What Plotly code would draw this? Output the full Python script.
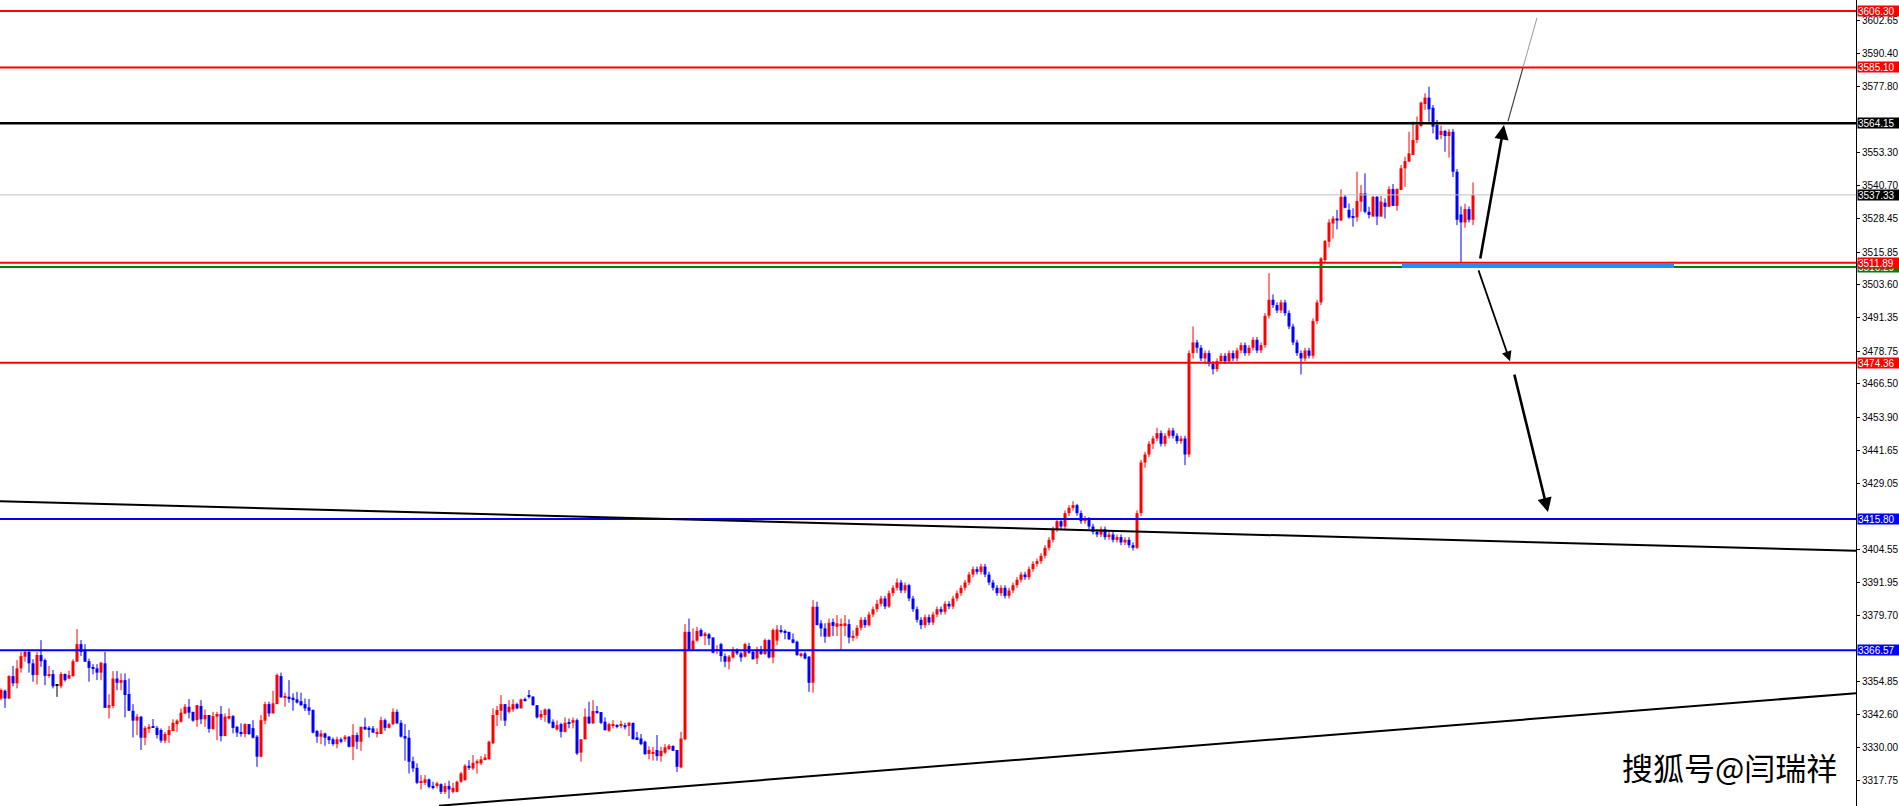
import plotly.graph_objects as go

# ---------------- data ----------------
opens = [
    3348.5, 3351.4, 3348.5, 3356.9, 3354.2, 3359.8, 3364.2, 3366.0, 3361.7, 3357.3,
    3364.8, 3362.9, 3357.2, 3357.7, 3353.5, 3353.1, 3357.7, 3356.0, 3356.9, 3362.3,
    3368.9, 3366.9, 3362.5, 3360.2, 3359.8, 3358.2, 3361.7, 3345.0, 3345.7, 3356.0,
    3354.4, 3355.4, 3350.2, 3343.9, 3340.2, 3341.7, 3333.8, 3337.1, 3337.9, 3337.5,
    3336.7, 3332.7, 3334.8, 3336.3, 3338.9, 3339.8, 3342.9, 3345.4, 3343.5, 3340.4,
    3345.7, 3340.7, 3342.3, 3337.1, 3341.7, 3342.7, 3334.4, 3341.0, 3341.9, 3337.9,
    3335.9, 3335.2, 3338.9, 3337.4, 3334.2, 3326.7, 3340.2, 3346.4, 3342.9, 3346.4,
    3356.9, 3348.9, 3349.2, 3348.8, 3348.2, 3347.5, 3346.4, 3345.2, 3344.2, 3336.3,
    3334.2, 3335.4, 3334.2, 3333.2, 3331.4, 3333.2, 3333.2, 3334.2, 3330.4, 3334.8,
    3332.3, 3337.9, 3337.5, 3337.3, 3335.2, 3335.2, 3340.4, 3337.5, 3338.9, 3343.5,
    3339.4, 3334.4, 3333.8, 3325.0, 3322.5, 3316.9, 3316.9, 3318.2, 3315.7, 3315.7,
    3316.4, 3313.5, 3315.7, 3313.5, 3313.5, 3317.3, 3317.9, 3323.3, 3322.3, 3324.2,
    3324.2, 3325.4, 3325.7, 3331.7, 3342.3, 3343.9, 3346.4, 3343.5, 3344.4, 3346.4,
    3344.8, 3348.3, 3349.8, 3349.2, 3346.0, 3341.4, 3342.3, 3344.4, 3339.8, 3336.9,
    3338.9, 3336.0, 3339.4, 3339.4, 3340.4, 3328.2, 3333.2, 3341.7, 3339.2, 3343.8,
    3343.4, 3339.8, 3336.4, 3338.2, 3338.5, 3338.2, 3338.5, 3338.2, 3339.4, 3333.9,
    3333.5, 3332.3, 3327.7, 3327.9, 3329.2, 3326.9, 3328.2, 3329.5, 3330.7, 3329.2,
    3322.7, 3333.2, 3373.5, 3366.9, 3370.2, 3374.2, 3372.3, 3372.6, 3371.4, 3366.4,
    3368.9, 3364.4, 3362.3, 3363.9, 3366.9, 3365.4, 3364.2, 3368.2, 3366.0, 3363.5,
    3366.9, 3365.2, 3370.4, 3363.9, 3370.2, 3374.2, 3373.8, 3373.5, 3370.7, 3369.8,
    3364.8, 3365.4, 3364.2, 3354.4, 3382.9, 3376.7, 3374.8, 3371.7, 3377.2, 3375.4,
    3375.9, 3375.7, 3376.4,
    3371.4, 3372.0, 3375.0, 3378.0, 3376.0, 3380.0, 3382.0, 3384.0, 3386.0, 3383.0,
    3388.0, 3390.0, 3392.0, 3389.0, 3391.0, 3386.0, 3382.0, 3378.0, 3376.0, 3379.0,
    3377.0, 3380.0, 3382.0, 3381.0, 3384.0, 3383.0, 3386.0, 3388.0, 3390.0, 3392.0,
    3395.0, 3397.0, 3396.0, 3398.0, 3395.0, 3392.0, 3390.0, 3388.0, 3390.0, 3387.0,
    3389.0, 3391.0, 3393.0, 3395.0, 3394.0, 3397.0, 3399.0, 3400.0, 3402.0, 3405.0,
    3408.0, 3412.0, 3415.0, 3413.0, 3418.0, 3420.0, 3421.0, 3418.0, 3415.0, 3416.0,
    3413.0, 3411.0, 3410.0, 3412.0, 3409.0, 3410.0, 3408.0, 3409.0, 3407.0, 3408.0,
    3406.0, 3405.0, 3418.0, 3437.0, 3440.0, 3444.0, 3446.0, 3448.0, 3444.0, 3447.0,
    3449.0, 3447.0, 3445.0, 3446.0, 3440.0, 3478.0, 3482.0, 3480.0, 3476.0, 3478.0,
    3474.0, 3472.0, 3475.0, 3477.0, 3475.0, 3478.0, 3476.0, 3479.0, 3481.0, 3478.0,
    3480.0, 3483.0, 3479.0, 3481.0, 3492.0, 3498.0, 3496.0, 3494.0, 3497.0, 3493.0,
    3488.0, 3482.0, 3478.0, 3476.0, 3479.0, 3477.0, 3490.0, 3497.0,
    3512.9, 3519.8, 3526.6, 3528.5, 3527.7, 3536.6, 3531.7, 3529.2, 3528.9, 3534.8,
    3537.9, 3531.0, 3529.2, 3536.6, 3529.2, 3534.4, 3532.9, 3539.5, 3533.2, 3539.2,
    3547.3, 3549.8, 3552.3, 3557.9, 3563.1, 3571.4, 3573.8, 3570.0, 3563.5, 3559.8,
    3561.3, 3559.4, 3561.0, 3546.0, 3530.0, 3527.0, 3532.0, 3528.0,
]
highs = [
    3352.3, 3351.9, 3357.2, 3360.7, 3362.9, 3366.0, 3366.7, 3366.2, 3363.2, 3366.0,
    3370.4, 3363.5, 3360.7, 3359.2, 3353.9, 3358.5, 3357.9, 3358.9, 3363.2, 3374.5,
    3370.4, 3368.9, 3363.5, 3361.4, 3361.4, 3362.3, 3366.0, 3350.1, 3358.8, 3358.8,
    3357.9, 3357.9, 3356.0, 3346.4, 3342.7, 3341.9, 3338.2, 3338.9, 3340.8, 3338.2,
    3337.3, 3336.0, 3338.2, 3340.7, 3340.7, 3344.8, 3346.4, 3348.3, 3343.5, 3346.0,
    3347.9, 3344.4, 3342.3, 3343.5, 3343.5, 3345.7, 3342.9, 3344.8, 3342.3, 3338.2,
    3339.2, 3339.2, 3338.9, 3340.4, 3334.8, 3342.3, 3347.3, 3347.3, 3351.4, 3357.9,
    3358.2, 3350.7, 3355.4, 3350.4, 3351.0, 3350.7, 3348.5, 3348.3, 3344.4, 3336.7,
    3336.7, 3335.7, 3334.5, 3333.9, 3334.2, 3333.9, 3334.8, 3334.4, 3338.9, 3335.7,
    3337.9, 3341.3, 3338.2, 3338.2, 3337.3, 3341.7, 3341.0, 3339.4, 3344.8, 3344.4,
    3340.4, 3338.9, 3336.7, 3326.7, 3324.2, 3319.8, 3319.8, 3318.5, 3317.3, 3317.3,
    3316.7, 3316.9, 3317.7, 3316.9, 3317.7, 3321.0, 3323.9, 3325.4, 3327.3, 3325.7,
    3326.9, 3327.7, 3332.7, 3344.8, 3345.7, 3349.8, 3346.4, 3347.9, 3348.2, 3346.9,
    3348.5, 3348.9, 3351.7, 3349.4, 3346.0, 3344.2, 3344.8, 3344.8, 3340.7, 3340.2,
    3339.4, 3341.4, 3341.0, 3341.4, 3341.0, 3333.2, 3344.8, 3347.3, 3347.9, 3345.7,
    3343.4, 3341.4, 3339.4, 3340.4, 3338.9, 3340.2, 3339.4, 3339.8, 3339.4, 3336.0,
    3335.2, 3332.7, 3330.6, 3330.4, 3334.8, 3330.4, 3331.4, 3331.4, 3331.0, 3329.2,
    3336.0, 3376.4, 3378.5, 3374.8, 3375.4, 3374.8, 3373.5, 3373.1, 3371.4, 3368.5,
    3369.4, 3365.4, 3364.8, 3367.9, 3367.3, 3366.0, 3369.4, 3369.4, 3366.7, 3367.9,
    3368.2, 3371.0, 3370.7, 3374.8, 3376.0, 3376.0, 3374.4, 3373.5, 3372.9, 3370.2,
    3365.7, 3366.0, 3364.4, 3385.4, 3384.8, 3377.9, 3376.7, 3378.5, 3378.5, 3379.8,
    3378.5, 3379.8, 3378.2,
    3374.0, 3376.0, 3379.0, 3379.0, 3381.0, 3383.0, 3385.5, 3387.0, 3387.0, 3389.0,
    3391.0, 3393.5, 3393.0, 3392.0, 3391.5, 3387.0, 3383.0, 3379.0, 3380.0, 3380.0,
    3381.0, 3383.0, 3383.0, 3385.0, 3385.0, 3387.0, 3389.0, 3391.0, 3393.0, 3396.0,
    3398.0, 3398.0, 3399.0, 3399.0, 3396.0, 3393.0, 3391.0, 3391.0, 3391.0, 3390.0,
    3392.0, 3394.0, 3396.0, 3396.0, 3398.0, 3400.0, 3401.0, 3403.0, 3406.0, 3409.0,
    3413.0, 3416.0, 3416.0, 3419.0, 3421.0, 3422.5, 3421.5, 3419.0, 3417.0, 3416.5,
    3414.0, 3412.0, 3413.0, 3413.0, 3411.0, 3411.0, 3410.0, 3410.0, 3409.0, 3409.0,
    3407.0, 3419.0, 3438.0, 3441.0, 3445.0, 3447.0, 3450.0, 3449.0, 3448.0, 3450.0,
    3450.0, 3448.0, 3447.0, 3447.0, 3479.0, 3488.0, 3483.0, 3481.0, 3479.0, 3479.0,
    3475.0, 3476.0, 3478.0, 3478.0, 3479.0, 3479.0, 3480.0, 3482.0, 3482.0, 3481.0,
    3484.0, 3484.0, 3482.0, 3493.0, 3508.0, 3500.0, 3497.0, 3498.0, 3498.0, 3494.0,
    3489.0, 3483.0, 3479.0, 3480.0, 3480.0, 3491.0, 3498.0, 3514.0,
    3520.4, 3528.2, 3529.4, 3531.7, 3539.4, 3537.3, 3534.1, 3532.3, 3546.0, 3541.0,
    3545.4, 3532.9, 3536.9, 3536.9, 3536.9, 3536.0, 3540.6, 3541.4, 3539.8, 3548.5,
    3551.6, 3561.0, 3564.8, 3566.7, 3572.3, 3575.4, 3577.9, 3571.0, 3565.4, 3563.3,
    3561.7, 3562.0, 3562.0, 3547.0, 3533.0, 3534.0, 3533.0, 3542.0,
]
lows = [
    3347.9, 3345.0, 3348.3, 3353.1, 3352.3, 3358.2, 3362.3, 3358.2, 3354.8, 3353.8,
    3360.4, 3353.5, 3356.3, 3352.3, 3349.1, 3352.3, 3354.8, 3355.8, 3356.7, 3362.3,
    3364.4, 3362.3, 3354.8, 3357.6, 3355.4, 3355.4, 3345.0, 3341.0, 3344.8, 3351.6,
    3351.6, 3341.4, 3343.9, 3333.9, 3334.8, 3329.2, 3331.0, 3335.6, 3337.5, 3333.5,
    3331.9, 3331.7, 3331.9, 3336.3, 3336.0, 3339.4, 3342.7, 3341.0, 3339.8, 3337.9,
    3338.9, 3337.9, 3335.7, 3336.7, 3332.9, 3332.4, 3334.4, 3340.7, 3335.4, 3334.1,
    3334.2, 3333.9, 3334.8, 3333.5, 3322.9, 3326.4, 3338.9, 3341.7, 3342.9, 3346.4,
    3348.9, 3345.4, 3346.9, 3343.9, 3346.6, 3345.7, 3343.8, 3342.3, 3335.4, 3331.9,
    3331.4, 3330.8, 3331.4, 3330.8, 3329.8, 3331.7, 3332.3, 3330.2, 3325.4, 3329.5,
    3328.9, 3336.7, 3333.9, 3335.7, 3333.9, 3335.2, 3336.4, 3337.3, 3338.5, 3338.9,
    3333.9, 3325.2, 3320.4, 3321.0, 3316.4, 3314.4, 3316.0, 3314.8, 3314.4, 3314.8,
    3312.7, 3312.7, 3311.0, 3312.9, 3313.3, 3316.9, 3317.7, 3321.7, 3321.7, 3320.4,
    3323.5, 3325.4, 3325.7, 3331.4, 3338.2, 3340.2, 3338.2, 3342.9, 3343.5, 3344.4,
    3344.8, 3347.3, 3348.5, 3345.7, 3341.0, 3340.4, 3339.8, 3338.9, 3337.3, 3336.4,
    3333.9, 3335.8, 3337.3, 3337.3, 3327.3, 3324.8, 3333.2, 3338.9, 3338.9, 3342.7,
    3338.9, 3336.4, 3336.0, 3337.3, 3337.3, 3337.3, 3336.9, 3334.4, 3333.2, 3332.9,
    3331.0, 3327.3, 3325.7, 3325.2, 3325.2, 3324.8, 3327.7, 3329.2, 3328.9, 3321.0,
    3322.3, 3332.9, 3366.7, 3366.9, 3369.8, 3371.7, 3368.5, 3368.5, 3365.4, 3365.2,
    3362.3, 3360.2, 3359.4, 3363.5, 3364.8, 3362.3, 3363.9, 3365.2, 3363.2, 3361.4,
    3364.8, 3364.8, 3363.5, 3361.7, 3368.5, 3372.9, 3370.7, 3370.4, 3369.2, 3364.4,
    3363.9, 3363.2, 3351.0, 3350.7, 3376.0, 3371.7, 3369.4, 3371.7, 3371.9, 3371.9,
    3366.7, 3371.9, 3369.2,
    3370.0, 3371.0, 3374.0, 3375.0, 3375.5, 3379.0, 3381.0, 3383.0, 3382.0, 3382.5,
    3387.0, 3389.0, 3388.0, 3388.0, 3385.0, 3381.0, 3377.0, 3374.5, 3375.0, 3376.0,
    3376.0, 3379.0, 3380.0, 3380.0, 3382.0, 3382.0, 3385.0, 3387.0, 3389.0, 3391.0,
    3394.0, 3395.0, 3395.0, 3394.0, 3391.0, 3389.0, 3387.0, 3387.0, 3386.0, 3386.0,
    3388.0, 3390.0, 3392.0, 3393.0, 3393.0, 3396.0, 3398.0, 3399.0, 3401.0, 3404.0,
    3407.0, 3411.0, 3412.0, 3412.0, 3417.0, 3419.0, 3417.0, 3414.0, 3414.0, 3412.0,
    3410.0, 3409.0, 3409.0, 3408.0, 3408.0, 3407.0, 3407.0, 3406.0, 3406.0, 3405.0,
    3404.0, 3404.5, 3417.0, 3435.0, 3439.0, 3442.0, 3445.0, 3443.0, 3443.0, 3446.0,
    3446.0, 3444.0, 3444.0, 3436.0, 3439.0, 3476.0, 3478.0, 3475.0, 3474.0, 3473.0,
    3470.0, 3471.0, 3474.0, 3474.0, 3474.0, 3475.0, 3475.0, 3478.0, 3477.0, 3477.0,
    3479.0, 3478.0, 3478.0, 3480.0, 3491.0, 3495.0, 3493.0, 3493.0, 3492.0, 3487.0,
    3481.0, 3477.0, 3470.0, 3475.0, 3476.0, 3476.0, 3489.0, 3496.0,
    3512.0, 3517.6, 3521.0, 3524.4, 3527.7, 3532.3, 3528.4, 3525.4, 3527.3, 3531.0,
    3530.4, 3528.5, 3529.2, 3526.0, 3529.2, 3528.5, 3532.9, 3533.2, 3531.4, 3539.2,
    3540.4, 3549.8, 3552.3, 3556.7, 3562.9, 3569.2, 3564.8, 3560.4, 3557.9, 3558.2,
    3553.5, 3551.3, 3544.0, 3526.0, 3511.9, 3525.0, 3527.0, 3526.0,
]
closes = [
    3351.7, 3348.5, 3356.9, 3354.2, 3359.8, 3364.4, 3366.0, 3361.7, 3357.3, 3364.8,
    3362.5, 3357.0, 3357.6, 3353.1, 3353.5, 3357.7, 3355.4, 3357.3, 3362.5, 3368.9,
    3366.0, 3362.3, 3360.0, 3359.8, 3358.2, 3361.9, 3345.0, 3346.0, 3356.0, 3354.4,
    3355.4, 3349.8, 3343.9, 3340.2, 3341.7, 3333.8, 3337.5, 3337.9, 3337.5, 3334.8,
    3332.7, 3335.2, 3336.7, 3339.4, 3340.2, 3343.2, 3345.4, 3343.2, 3340.2, 3346.0,
    3340.7, 3342.3, 3337.1, 3341.9, 3342.7, 3334.4, 3341.7, 3341.9, 3337.5, 3335.7,
    3335.2, 3338.9, 3335.2, 3333.8, 3326.7, 3340.4, 3346.4, 3342.9, 3346.7, 3357.3,
    3348.9, 3349.4, 3348.3, 3347.9, 3347.0, 3346.0, 3344.8, 3343.9, 3335.7, 3334.2,
    3335.4, 3333.8, 3332.9, 3331.4, 3333.2, 3332.3, 3334.2, 3330.4, 3334.8, 3332.3,
    3337.9, 3336.9, 3336.7, 3335.7, 3335.7, 3340.4, 3337.5, 3338.9, 3343.5, 3339.2,
    3334.2, 3333.5, 3324.8, 3322.3, 3316.9, 3317.3, 3318.2, 3315.4, 3315.0, 3316.7,
    3313.5, 3315.7, 3314.4, 3315.0, 3317.3, 3320.4, 3323.3, 3322.5, 3324.4, 3325.0,
    3325.7, 3326.4, 3332.3, 3342.3, 3344.2, 3346.4, 3340.2, 3345.4, 3346.4, 3344.8,
    3348.2, 3347.6, 3349.2, 3346.0, 3341.4, 3342.7, 3344.4, 3339.4, 3337.5, 3338.5,
    3336.0, 3339.4, 3339.2, 3340.4, 3327.9, 3333.2, 3341.7, 3339.2, 3343.8, 3343.2,
    3339.4, 3336.7, 3338.9, 3338.7, 3337.9, 3338.8, 3337.7, 3339.4, 3333.2, 3333.2,
    3331.4, 3327.7, 3329.2, 3328.5, 3326.9, 3328.9, 3330.2, 3330.8, 3328.9, 3322.9,
    3333.5, 3373.5, 3366.9, 3370.2, 3373.8, 3371.9, 3372.9, 3371.0, 3365.7, 3366.9,
    3364.4, 3362.3, 3364.2, 3366.9, 3365.4, 3363.9, 3368.9, 3365.7, 3363.2, 3366.9,
    3365.2, 3370.4, 3363.9, 3374.2, 3374.4, 3373.5, 3373.1, 3370.7, 3369.4, 3364.8,
    3365.4, 3363.5, 3354.4, 3382.9, 3376.0, 3374.8, 3371.7, 3376.9, 3375.7, 3376.7,
    3376.4, 3376.7, 3371.4,
    3372.0, 3375.0, 3378.0, 3376.0, 3380.0, 3382.0, 3384.0, 3386.0, 3383.0, 3388.0,
    3390.0, 3392.0, 3389.0, 3391.0, 3386.0, 3382.0, 3378.0, 3376.0, 3379.0, 3377.0,
    3380.0, 3382.0, 3381.0, 3384.0, 3383.0, 3386.0, 3388.0, 3390.0, 3392.0, 3395.0,
    3397.0, 3396.0, 3398.0, 3395.0, 3392.0, 3390.0, 3388.0, 3390.0, 3387.0, 3389.0,
    3391.0, 3393.0, 3395.0, 3394.0, 3397.0, 3399.0, 3400.0, 3402.0, 3405.0, 3408.0,
    3412.0, 3415.0, 3413.0, 3418.0, 3420.0, 3421.0, 3418.0, 3415.0, 3416.0, 3413.0,
    3411.0, 3410.0, 3412.0, 3409.0, 3410.0, 3408.0, 3409.0, 3407.0, 3408.0, 3406.0,
    3405.0, 3418.0, 3437.0, 3440.0, 3444.0, 3446.0, 3448.0, 3444.0, 3447.0, 3449.0,
    3447.0, 3445.0, 3446.0, 3440.0, 3478.0, 3482.0, 3480.0, 3476.0, 3478.0, 3474.0,
    3472.0, 3475.0, 3477.0, 3475.0, 3478.0, 3476.0, 3479.0, 3481.0, 3478.0, 3480.0,
    3483.0, 3479.0, 3481.0, 3492.0, 3498.0, 3496.0, 3494.0, 3497.0, 3493.0, 3488.0,
    3482.0, 3478.0, 3476.0, 3479.0, 3477.0, 3490.0, 3497.0, 3513.5,
    3520.0, 3527.0, 3528.5, 3527.7, 3536.6, 3532.5, 3528.9, 3528.9, 3535.0, 3537.9,
    3531.0, 3529.8, 3536.6, 3529.2, 3534.8, 3532.9, 3539.5, 3533.2, 3539.5, 3547.3,
    3550.0, 3552.9, 3557.9, 3563.5, 3571.9, 3573.8, 3569.4, 3562.9, 3558.2, 3561.3,
    3559.4, 3561.0, 3546.0, 3528.0, 3527.0, 3532.0, 3528.0, 3537.33,
]

# horizontal levels (drawn in this order; later labels sit on top)
level_prices = [3606.30, 3585.10, 3564.15, 3537.33, 3510.29, 3511.89, 3474.36, 3415.80, 3366.57]
level_colors = ["#ff0000", "#ff0000", "#000000", "#c0c0c0", "#008000", "#ff0000", "#ff0000", "#0000ff", "#0000ff"]
level_widths = [2, 2, 2.5, 1, 2, 2, 2, 2, 2]
label_colors = ["#ff0000", "#ff0000", "#000000", "#000000", "#008000", "#ff0000", "#ff0000", "#0000ff", "#0000ff"]

tick_vals = [3602.65, 3590.40, 3577.80, 3553.30, 3540.70, 3528.45, 3515.85, 3503.60,
             3491.35, 3478.75, 3466.50, 3453.90, 3441.65, 3429.05, 3404.55, 3391.95,
             3379.70, 3354.85, 3342.60, 3330.00, 3317.75]

# trend lines (bar index, price)
down_trend = [(-0.25, 3422.5), (463.75, 3403.9)]
up_trend = [(109.5, 3308.3), (463.75, 3350.5)]
support_zone = [(350.25, 3510.9), (418.25, 3510.9)]

Y_RANGE = [3308.2, 3610.4]
X_RANGE = [-0.25, 463.75]

n = len(closes)
assert len(opens) == n and len(highs) == n and len(lows) == n

fig = go.Figure()

groups = {"up": ("#ff0000", []), "down": ("#0000ff", []), "flat": ("#000000", [])}
for i in range(n):
    o, c = opens[i], closes[i]
    key = "up" if c > o else ("down" if c < o else "flat")
    groups[key][1].append(i)

for key, (col, idx) in groups.items():
    wx, wy = [], []
    for i in idx:
        wx += [i, i, None]
        wy += [lows[i], highs[i], None]
    fig.add_trace(go.Scatter(x=wx, y=wy, mode="lines", line=dict(color=col, width=1),
                             hoverinfo="skip", showlegend=False))
    base = [min(opens[i], closes[i]) for i in idx]
    hgt = [max(abs(closes[i] - opens[i]), 0.35) for i in idx]
    fig.add_trace(go.Bar(x=idx, y=hgt, base=base, width=0.75,
                         marker=dict(color=col, line=dict(width=0)),
                         hoverinfo="skip", showlegend=False))

shapes = []
for p, col, w in zip(level_prices, level_colors, level_widths):
    shapes.append(dict(type="line", xref="paper", x0=0, x1=1, yref="y", y0=p, y1=p,
                       line=dict(color=col, width=w), layer="above"))
for seg, w in ((down_trend, 2), (up_trend, 2)):
    shapes.append(dict(type="line", xref="x", yref="y", x0=seg[0][0], y0=seg[0][1],
                       x1=seg[1][0], y1=seg[1][1], line=dict(color="#000000", width=w)))
shapes.append(dict(type="line", xref="x", yref="y", x0=support_zone[0][0], y0=support_zone[0][1],
                   x1=support_zone[1][0], y1=support_zone[1][1], line=dict(color="#1e90ff", width=5)))
# thin projection line above the up arrow
shapes.append(dict(type="line", xref="x", yref="y", x0=376.75, y0=3565.0, x1=380.5, y1=3585.1,
                   line=dict(color="#444444", width=1.2)))
shapes.append(dict(type="line", xref="x", yref="y", x0=380.5, y0=3585.1, x1=384.0, y1=3603.7,
                   line=dict(color="#9a9a9a", width=1)))

annotations = []
# arrows
for (tx, ty, hx, hy, w) in [(369.75, 3512.9, 375.75, 3563.5, 2.6),
                             (369.25, 3509.6, 377.25, 3475.0, 1.8),
                             (378.25, 3470.5, 386.75, 3418.4, 2.6)]:
    annotations.append(dict(x=hx, y=hy, ax=tx, ay=ty, xref="x", yref="y", axref="x", ayref="y",
                            showarrow=True, arrowhead=2, arrowsize=1.1, arrowwidth=w,
                            arrowcolor="#000000", text=""))
# price labels on the axis
for p, col in zip(level_prices, label_colors):
    annotations.append(dict(xref="paper", x=1, xanchor="left", xshift=1, yref="y", y=p,
                            yanchor="middle", text="%.2f" % p, showarrow=False,
                            bgcolor=col, font=dict(color="#ffffff", size=10, family="Liberation Sans"),
                            width=42, height=10, align="left", borderpad=0))
# watermark
annotations.append(dict(xref="paper", yref="paper", x=1729 / 1856, y=1 - 766 / 806,
                        xanchor="center", yanchor="middle", text="搜狐号@闫瑞祥", showarrow=False,
                        font=dict(family="Noto Sans CJK SC", size=31, color="#000000")))

fig.update_layout(
    width=1899, height=806,
    margin=dict(l=0, r=43, t=0, b=0),
    paper_bgcolor="#ffffff", plot_bgcolor="#ffffff",
    showlegend=False, barmode="overlay",
    shapes=shapes, annotations=annotations,
    xaxis=dict(range=X_RANGE, visible=False, showgrid=False, zeroline=False),
    yaxis=dict(range=Y_RANGE, side="right", showgrid=False, zeroline=False,
               showline=True, linecolor="#000000", linewidth=1,
               ticks="outside", ticklen=3, tickcolor="#000000",
               tickvals=tick_vals, ticktext=["%.2f" % v for v in tick_vals],
               tickfont=dict(family="Liberation Sans", size=10, color="#000000")),
)

fig.write_html("out.html", config={"displayModeBar": False},
               post_script="document.body.style.margin='0';document.body.style.overflow='hidden';")
